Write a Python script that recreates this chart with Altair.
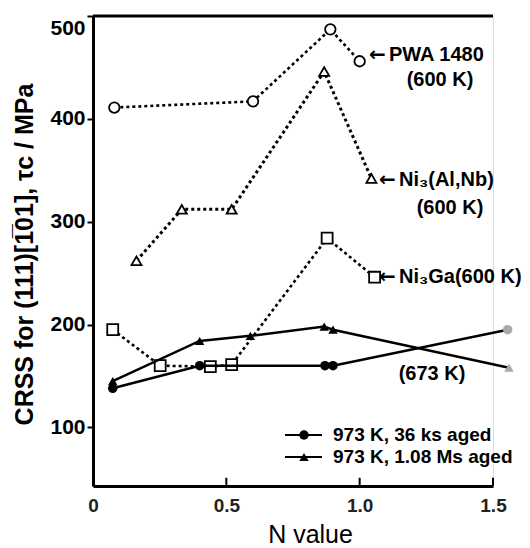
import altair as alt
import pandas as pd

# ---- data ----
pwa_n = [0.08, 0.60, 0.89, 1.00]
pwa_c = [411, 417, 487, 456]

alnb_n = [0.163, 0.333, 0.52, 0.867, 1.044]
alnb_c = [262, 312, 312, 446, 342]

ga_n = [0.074, 0.252, 0.44, 0.52, 0.878, 1.056]
ga_c = [195, 160, 159, 161, 284, 246]

ks36_n = [0.074, 0.40, 0.87, 0.90, 1.555]
ks36_c = [138, 160, 160, 160, 195]

ms108_n = [0.074, 0.40, 0.59, 0.867, 0.90, 1.56]
ms108_c = [145, 184, 189, 198, 195, 158]

x_ticks = [0, 0.5, 1.0, 1.5]
x_inner_ticks = [0.5, 1.0, 1.5]
y_ticks = [100, 200, 300, 400, 500]

W, H = 400, 470
FONT = "Liberation Sans"

xs = alt.Scale(domain=[0, 1.5], nice=False, zero=False)
ys = alt.Scale(domain=[43, 500], nice=False, zero=False)

x_axis = alt.Axis(values=x_ticks, ticks=False, labelExpr="datum.value == 0 ? '0' : format(datum.value, '.1f')",
                  labelFontSize=19, labelFontWeight="bold", labelColor="#222", labelPadding=10,
                  labelFlush=False,
                  title="N  value", titleFontSize=25, titleFontWeight="normal", titlePadding=7,
                  titleX=217, domainWidth=3, domainColor="black", grid=False, labelFont=FONT, titleFont=FONT)
y_axis = alt.Axis(values=y_ticks, tickSize=6, tickWidth=2, tickColor="black",
                  labelFontSize=21, labelFontWeight="bold", labelPadding=2, labelColor="black",
                  labelFlush=True, labelFlushOffset=-1,
                  title="CRSS for (111)[1\u030501], \u03c4c / MPa",
                  titleFontSize=25, titleFontWeight="bold", titleAngle=-90,
                  titleX=-69, titleY=238, titleBaseline="middle", titleAlign="center",
                  domainWidth=3, domainColor="black", grid=False, labelFont=FONT, titleFont=FONT)


def make_df(n, c):
    return pd.DataFrame({"N": n, "CRSS": c})


def enc(ch):
    return ch.encode(x=alt.X("N:Q", scale=xs, axis=x_axis),
                     y=alt.Y("CRSS:Q", scale=ys, axis=y_axis))


def series(n, c, dash, width, shape, filled, size):
    base = enc(alt.Chart(make_df(n, c)))
    if dash:
        line = base.mark_line(color="black", strokeWidth=width, strokeDash=dash)
    else:
        line = base.mark_line(color="black", strokeWidth=width)
    col = alt.condition("datum.N > 1.5", alt.value("#aaaaaa"), alt.value("black"))
    if filled:
        pts = base.mark_point(shape=shape, filled=True, size=size, opacity=1).encode(color=col)
    else:
        pts = base.mark_point(shape=shape, filled=True, fill="white", stroke="black",
                              strokeWidth=1.8, size=size, opacity=1)
    return [line, pts]


layers = []
layers += series(pwa_n, pwa_c, [3, 3], 2.6, "circle", False, 110)
layers += series(alnb_n, alnb_c, [3, 3], 3, "triangle-up", False, 100)
layers += series(ga_n, ga_c, [3, 3], 2.6, "square", False, 120)
layers += series(ks36_n, ks36_c, None, 2.5, "circle", True, 90)
layers += series(ms108_n, ms108_c, None, 2.5, "triangle-up", True, 90)

# inward x ticks
tick_df = pd.DataFrame({"N": x_inner_ticks})
layers.append(alt.Chart(tick_df).mark_rule(color="black", strokeWidth=2).encode(
    x=alt.X("N:Q", scale=xs, axis=x_axis), y=alt.datum(43), y2=alt.datum(51)))

# top frame line
layers.append(alt.Chart(pd.DataFrame({"a": [0]})).mark_rule(color="black", strokeWidth=3).encode(
    x=alt.value(0), x2=alt.value(W), y=alt.value(0)))


def label(text, px, py, align="left", size=20, font=FONT):
    return alt.Chart(pd.DataFrame({"t": [text]})).mark_text(
        align=align, baseline="middle", fontSize=size, fontWeight="bold", font=font, color="black"
    ).encode(x=alt.value(px), y=alt.value(py), text="t:N")


def arrow(px, py):
    return label("\u2190", px, py, size=20, font="DejaVu Sans")


layers += [
    arrow(276, 39), label("PWA 1480", 296, 39),
    label("(600 K)", 347, 64, "center"),
    arrow(286, 164), label("Ni\u2083(Al,Nb)", 306, 164),
    label("(600 K)", 357, 192, "center"),
    arrow(286, 261), label("Ni\u2083Ga(600 K)", 306, 261),
    label("(673 K)", 339, 358, "center"),
    label("973 K, 36 ks aged", 240, 419, size=19),
    label("973 K, 1.08 Ms aged", 240, 441, size=19),
]

# legend symbols
for yy, shp in [(419, "circle"), (441, "triangle-up")]:
    d = pd.DataFrame({"a": [0]})
    layers.append(alt.Chart(d).mark_rule(color="black", strokeWidth=2).encode(
        x=alt.value(192), x2=alt.value(229), y=alt.value(yy)))
    layers.append(alt.Chart(d).mark_point(shape=shp, filled=True, color="black", size=90, opacity=1).encode(
        x=alt.value(211), y=alt.value(yy)))

chart = alt.layer(*layers).properties(
    width=W, height=H,
    autosize=alt.AutoSizeParams(type="none"),
    padding={"left": 85, "top": 8, "right": 29, "bottom": 62},
).configure_view(stroke=None).configure(background="white")

chart.save("out.html", embed_options={"renderer": "svg", "actions": False})
